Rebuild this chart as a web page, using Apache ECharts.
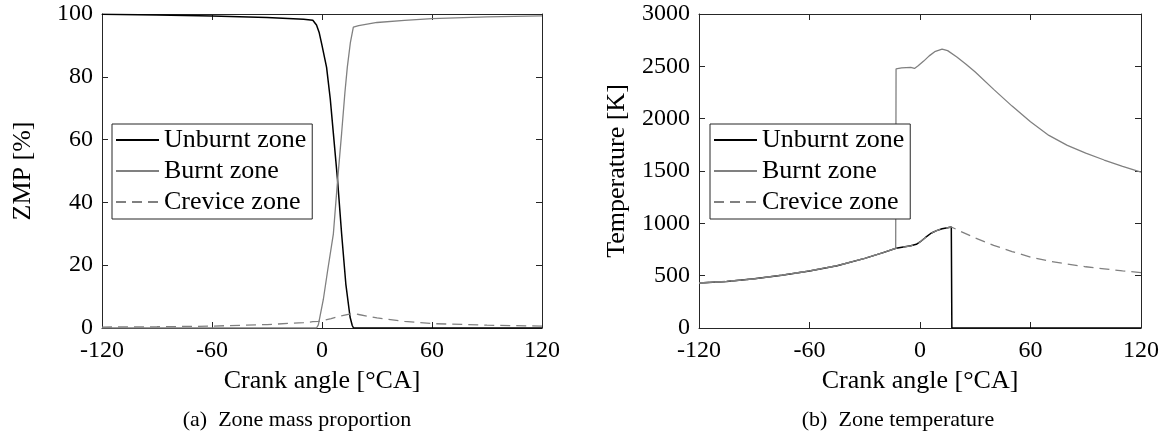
<!DOCTYPE html>
<html>
<head>
<meta charset="utf-8">
<script src="https://cdn.jsdelivr.net/npm/echarts@6/dist/echarts.min.js"></script>
<style>
html,body{margin:0;padding:0;background:#fff;}
#chart{width:1165px;height:439px;}
</style>
</head>
<body>
<div id="chart"></div>
<script>
// ---------- data ----------
const xTicks = [-120, -60, 0, 60, 120];
const seriesNames = ['Unburnt zone', 'Burnt zone', 'Crevice zone'];

// (a) zone mass proportion [%]
const zmpUnburntX = [-120, -90, -60, -30, -10, -5, -3, -1.5, 0, 2.5, 4.5, 6.2, 8.5, 10.7, 13, 15.3, 16.5, 17.2, 120];
const zmpUnburntY = [99.9, 99.7, 99.4, 98.9, 98.3, 98.0, 96.5, 94, 90, 83, 73, 62, 47, 30, 14, 3.5, 0.8, 0, 0];
const zmpBurntX = [-120, -3, -2, 0.7, 3, 6.2, 8.5, 10.7, 12.5, 13.8, 15.5, 17.1, 20, 30, 45, 60, 90, 120];
const zmpBurntY = [0, 0, 1, 9, 18, 30, 47, 62, 75, 83, 91, 95.8, 96.3, 97.3, 98.0, 98.5, 99.1, 99.4];
const zmpCreviceX = [-120, -90, -60, -30, -10, -5, -2, 0, 5, 10, 15, 17, 20, 30, 45, 60, 90, 120];
const zmpCreviceY = [0.3, 0.4, 0.6, 1.1, 1.7, 2.0, 2.1, 2.3, 3.0, 3.8, 4.4, 4.6, 4.3, 3.2, 2.1, 1.4, 0.9, 0.6];

// (b) zone temperature [K]
const tUnburntX = [-120, -105, -90, -75, -60, -45, -30, -20, -13, -5, -2, 0, 3, 6, 9, 12, 15, 17, 17.3, 120];
const tUnburntY = [430, 445, 470, 505, 545, 595, 665, 720, 762, 785, 800, 822, 865, 905, 930, 948, 958, 965, 0, 0];
const tBurntX = [-120, -105, -90, -75, -60, -45, -30, -20, -13.2, -13, -10, -5, -3, -1, 2, 5, 8, 12, 15, 20, 25, 30, 40, 50, 60, 70, 80, 90, 100, 110, 120];
const tBurntY = [430, 445, 470, 505, 545, 595, 665, 720, 762, 2475, 2485, 2490, 2480, 2505, 2550, 2600, 2640, 2665, 2650, 2590, 2520, 2445, 2280, 2120, 1970, 1840, 1745, 1670, 1605, 1545, 1490];
const tCreviceX = [-120, -105, -90, -75, -60, -45, -30, -20, -13, -5, -2, 0, 3, 6, 9, 12, 15, 17, 20, 30, 40, 50, 60, 70, 80, 90, 100, 110, 120];
const tCreviceY = [430, 445, 470, 505, 545, 595, 665, 720, 762, 785, 800, 822, 865, 905, 930, 948, 958, 965, 940, 860, 790, 730, 678, 640, 610, 585, 565, 545, 530];

// ---------- chart ----------
const FONT = '"Liberation Serif", "Times New Roman", serif';
const AX = '#262626';
const zip = (xs, ys) => xs.map((x, i) => [x, ys[i]]);

function xAx(grid, pos, showLabel, name) {
  return {
    type: 'value', gridIndex: grid, position: pos, min: -120, max: 120, interval: 60,
    axisLine: {show: true, onZero: false, lineStyle: {color: AX, width: 1}},
    axisTick: {show: true, inside: true, length: 6, lineStyle: {color: AX}},
    axisLabel: {show: showLabel, margin: 11, color: '#000', fontFamily: FONT, fontSize: 24, formatter: v => String(v)},
    splitLine: {show: false},
    name: name || '', nameLocation: 'middle', nameGap: 38,
    nameTextStyle: {color: '#000', fontFamily: FONT, fontSize: 26}
  };
}
function yAx(grid, pos, max, interval, showLabel, name, gap) {
  return {
    type: 'value', gridIndex: grid, position: pos, min: 0, max: max, interval: interval,
    axisLine: {show: true, onZero: false, lineStyle: {color: AX, width: 1}},
    axisTick: {show: true, inside: true, length: 6, lineStyle: {color: AX}},
    axisLabel: {show: showLabel, margin: 9, color: '#000', fontFamily: FONT, fontSize: 24, formatter: v => String(v)},
    splitLine: {show: false},
    name: name || '', nameLocation: 'middle', nameGap: gap || 0,
    nameTextStyle: {color: '#000', fontFamily: FONT, fontSize: 26}
  };
}
function line(name, data, xi, yi, color, width, dashed) {
  return {
    name: name, type: 'line', xAxisIndex: xi, yAxisIndex: yi, data: data,
    symbol: 'none', showSymbol: false, smooth: false, animation: false,
    lineStyle: {color: color, width: width, type: dashed ? [10, 6] : 'solid'},
    itemStyle: {color: color}
  };
}
function legend(left) {
  return {
    left: left, top: 124, orient: 'vertical', data: seriesNames,
    itemWidth: 43, itemHeight: 14, itemGap: 5, itemTextGap: 3,
    padding: [3, 6, 4, 3], borderColor: AX, borderWidth: 1, backgroundColor: '#fff',
    selectedMode: false,
    itemStyle: {opacity: 0, borderWidth: 0},
    textStyle: {color: '#000', fontFamily: FONT, fontSize: 26, lineHeight: 26}
  };
}

const chart = echarts.init(document.getElementById('chart'), null, {renderer: 'canvas'});
chart.setOption({
  animation: false,
  backgroundColor: '#fff',
  grid: [
    {left: 102, top: 14, width: 440, height: 314},
    {left: 699, top: 14, width: 442, height: 314}
  ],
  xAxis: [
    xAx(0, 'bottom', true, 'Crank angle [°CA]'),
    xAx(0, 'top', false),
    xAx(1, 'bottom', true, 'Crank angle [°CA]'),
    xAx(1, 'top', false)
  ],
  yAxis: [
    yAx(0, 'left', 100, 20, true, 'ZMP [%]', 66),
    yAx(0, 'right', 100, 20, false),
    yAx(1, 'left', 3000, 500, true, 'Temperature [K]', 69),
    yAx(1, 'right', 3000, 500, false)
  ],
  legend: [legend(112), legend(710)],
  series: [
    line(seriesNames[0], zip(zmpUnburntX, zmpUnburntY), 0, 0, '#000', 1.5, false),
    line(seriesNames[1], zip(zmpBurntX, zmpBurntY), 0, 0, '#808080', 1.3, false),
    line(seriesNames[2], zip(zmpCreviceX, zmpCreviceY), 0, 0, '#808080', 1.3, true),
    line(seriesNames[0], zip(tUnburntX, tUnburntY), 2, 2, '#000', 1.5, false),
    line(seriesNames[1], zip(tBurntX, tBurntY), 2, 2, '#808080', 1.3, false),
    line(seriesNames[2], zip(tCreviceX, tCreviceY), 2, 2, '#808080', 1.3, true)
  ],
  graphic: [
    {type: 'text', x: 297, y: 420, style: {text: '(a)  Zone mass proportion', font: '22px ' + FONT, fill: '#000', align: 'center', verticalAlign: 'middle'}},
    {type: 'text', x: 898, y: 420, style: {text: '(b)  Zone temperature', font: '22px ' + FONT, fill: '#000', align: 'center', verticalAlign: 'middle'}}
  ]
});
</script>
</body>
</html>
